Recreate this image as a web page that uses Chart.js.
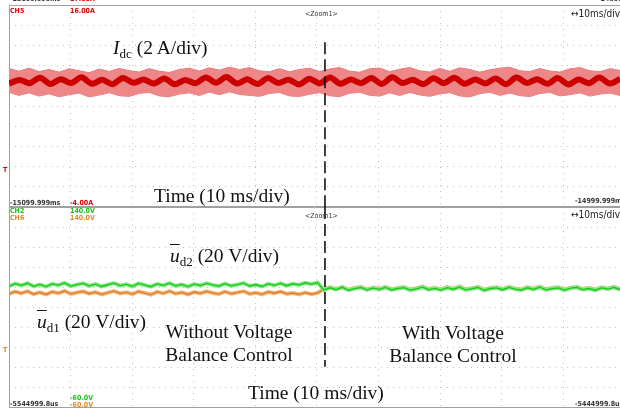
<!DOCTYPE html>
<html>
<head>
<meta charset="utf-8">
<script src="https://cdn.jsdelivr.net/npm/chart.js@4.4.1/dist/chart.umd.min.js"></script>
<style>
  body { margin: 0; background: #fff; }
  #wrap { position: relative; width: 620px; height: 418px; overflow: hidden; background: #fff; }
  canvas { position: absolute; left: 0; }
  .lbl { position: absolute; font-family: "DejaVu Sans Condensed", "DejaVu Sans", sans-serif; font-weight: bold; font-size: 7px; line-height: 8px; white-space: nowrap; color: #333; }
  .big { font-weight: normal; font-size: 10px; line-height: 10px; color: #222; }
  .ann { position: absolute; font-family: "Liberation Serif", "Times New Roman", serif; font-size: 19.5px; line-height: 20px; color: #111; white-space: nowrap; }
  .ann sub { font-size: 13px; vertical-align: baseline; position: relative; top: 4px; }
  .ann .ov { font-style: italic; text-decoration: overline; }
  .two { line-height: 23px; text-align: center; width: 180px; }
</style>
</head>
<body>
<div id="wrap">
  <canvas id="top" width="620" height="209" style="top:0"></canvas>
  <canvas id="bot" width="620" height="205" style="top:205px"></canvas>

  <!-- scope readouts, top panel -->
  <div class="lbl" style="left:10px;top:-5px">-15099.999ms</div>
  <div class="lbl" style="left:70px;top:-5px;color:#e00000">17.00A</div>
  <div class="lbl" style="left:598px;top:-5px">-14999.9</div>
  <div class="lbl" style="left:10px;top:7px;color:#e00000">CH5</div>
  <div class="lbl" style="left:70px;top:7px;color:#e00000">16.00A</div>
  <div class="lbl" style="left:305px;top:10px;font-weight:normal">&lt;Zoom1&gt;</div>
  <div class="lbl big" style="left:571px;top:9px">&#8596;10ms/div</div>
  <div class="lbl" style="left:3px;top:166px;color:#e00000">T</div>
  <div class="lbl" style="left:10px;top:199px">-15099.999ms</div>
  <div class="lbl" style="left:70px;top:199px;color:#e00000">-4.00A</div>
  <div class="lbl" style="left:575px;top:197px">-14999.999ms</div>

  <!-- scope readouts, bottom panel -->
  <div class="lbl" style="left:10px;top:207px;color:#22bb22">CH2</div>
  <div class="lbl" style="left:70px;top:207px;color:#22bb22">140.0V</div>
  <div class="lbl" style="left:10px;top:214px;color:#e08a2a">CH6</div>
  <div class="lbl" style="left:70px;top:214px;color:#e08a2a">140.0V</div>
  <div class="lbl" style="left:305px;top:212px;font-weight:normal">&lt;Zoom1&gt;</div>
  <div class="lbl big" style="left:571px;top:210px">&#8596;10ms/div</div>
  <div class="lbl" style="left:3px;top:346px;color:#e08a2a">T</div>
  <div class="lbl" style="left:70px;top:394px;color:#22bb22">-60.0V</div>
  <div class="lbl" style="left:10px;top:400px">-5544999.8us</div>
  <div class="lbl" style="left:70px;top:401px;color:#e08a2a">-60.0V</div>
  <div class="lbl" style="left:575px;top:400px">-5444999.8us</div>

  <!-- annotations -->
  <div class="ann" style="left:113px;top:38px"><i>I</i><sub>dc</sub> (2 A/div)</div>
  <div class="ann" style="left:154px;top:186px">Time (10 ms/div)</div>
  <div class="ann" style="left:170px;top:246px"><span class="ov">u</span><sub>d2</sub> (20 V/div)</div>
  <div class="ann" style="left:37px;top:312px"><span class="ov">u</span><sub>d1</sub> (20 V/div)</div>
  <div class="ann two" style="left:139px;top:320px">Without Voltage<br>Balance Control</div>
  <div class="ann two" style="left:363px;top:321px">With Voltage<br>Balance Control</div>
  <div class="ann" style="left:248px;top:383px">Time (10 ms/div)</div>
</div>

<script>
// time window shown (ms) - 10 ms/div, right edge slightly cropped
const timeSpan = 99.2;
const xGrid = [10, 20, 30, 40, 50, 60, 70, 80, 90];
const switchTime = 51.3;

// I_dc (A), CH5 scale 16 A .. -4 A
const idcGrid = [14, 12, 10, 8, 6, 4, 2, 0, -2];
const idcUpper = [
  9.70, 9.45, 9.75, 9.40, 9.62, 9.35, 9.68, 9.48, 9.30, 9.66,
  9.42, 9.72, 9.50, 9.36, 9.70, 9.44, 9.32, 9.62, 9.74, 9.46,
  9.78, 9.55, 9.85, 9.60, 9.80, 9.48, 9.40, 9.70, 9.38, 9.62,
  9.74, 9.42, 9.66, 9.80, 9.45, 9.34, 9.68, 9.76, 9.40, 9.64,
  9.82, 9.48, 9.36, 9.72, 9.44, 9.78, 9.62, 9.35, 9.58, 9.75,
  9.84, 9.50, 9.40, 9.72, 9.46, 9.36, 9.68, 9.80, 9.48, 9.40,
  9.70, 9.52
];
const idcLower = [
  7.35, 7.05, 7.30, 6.98, 7.20, 6.92, 7.12, 7.28, 6.90, 7.08,
  7.32, 7.02, 6.95, 7.25, 7.35, 7.00, 6.92, 7.18, 7.30, 7.04,
  7.38, 7.12, 7.40, 7.15, 7.05, 6.96, 7.24, 7.34, 7.00, 6.94,
  7.16, 7.32, 7.02, 6.92, 7.26, 7.36, 7.06, 6.98, 7.30, 7.04,
  7.34, 7.10, 6.96, 7.20, 7.32, 7.00, 6.90, 7.22, 7.35, 7.06,
  7.28, 7.02, 6.94, 7.24, 7.34, 7.00, 7.12, 7.30, 6.98, 7.18,
  7.28, 7.04
];
const idcMean = [
  8.22, 8.58, 8.26, 8.80, 8.18, 8.66, 8.28, 8.84, 8.20, 8.60,
  8.16, 8.78, 8.30, 8.62, 8.22, 8.72, 8.15, 8.58, 8.26, 8.82,
  8.30, 8.86, 8.22, 8.64, 8.18, 8.76, 8.28, 8.60, 8.14, 8.70,
  8.24, 8.82, 8.20, 8.62, 8.26, 8.78, 8.18, 8.84, 8.28, 8.60,
  8.16, 8.74, 8.26, 8.80, 8.20, 8.62, 8.24, 8.72, 8.16, 8.82,
  8.28, 8.66, 8.20, 8.76, 8.14, 8.62, 8.26, 8.82, 8.22, 8.68
];

// capacitor voltages (V), CH2/CH6 scale 140 V .. -60 V
const udcGrid = [120, 100, 80, 60, 40, 20, 0, -20, -40];
const ud2 = [
  61.2, 63.8, 62.0, 64.1, 61.0, 62.9, 60.8, 63.5, 62.2, 64.4,
  61.3, 62.8, 64.0, 61.5, 63.2, 60.9, 62.6, 64.3, 61.8, 63.0,
  61.1, 63.9, 62.3, 60.7, 63.4, 62.0, 64.2, 61.6, 62.9, 60.8,
  63.3, 61.9, 64.0, 62.4, 61.2, 63.7, 61.6, 62.8, 64.3, 61.4,
  62.6, 60.9, 63.5, 62.1, 64.0, 61.7, 63.6, 62.5, 64.6, 63.2,
  64.8,
  57.4, 59.6, 57.9, 60.1, 57.2, 58.8, 59.9, 57.5, 59.3, 58.0,
  60.0, 57.6, 58.9, 59.8, 57.3, 58.6, 60.2, 57.8, 59.1, 57.4,
  59.7, 58.2, 60.3, 57.5, 58.7, 59.9, 57.1, 58.9, 59.5, 57.7,
  60.0, 58.3, 57.4, 59.6, 58.1, 60.2, 57.6, 58.8, 59.4, 57.3,
  59.2, 60.1, 57.8, 58.9, 57.2, 59.5, 58.4, 60.0, 57.9
];
const ud1 = [
  53.4, 55.9, 54.1, 56.2, 53.2, 55.0, 53.0, 55.6, 54.3, 56.4,
  53.5, 54.9, 56.0, 53.7, 55.3, 53.1, 54.7, 56.3, 54.0, 55.1,
  53.3, 55.9, 54.4, 52.9, 55.5, 54.1, 56.2, 53.8, 55.0, 53.0,
  55.4, 54.0, 56.1, 54.5, 53.4, 55.8, 53.8, 54.9, 56.2, 53.6,
  54.7, 53.1, 55.5, 54.2, 55.9, 53.6, 54.4, 53.0, 54.8, 53.2,
  54.6,
  58.0, 60.2, 58.5, 60.6, 57.8, 59.4, 60.5, 58.1, 59.9, 58.6,
  60.6, 58.2, 59.5, 60.4, 57.9, 59.2, 60.8, 58.4, 59.7, 58.0,
  60.3, 58.8, 60.9, 58.1, 59.3, 60.5, 57.7, 59.5, 60.1, 58.3,
  60.6, 58.9, 58.0, 60.2, 58.7, 60.8, 58.2, 59.4, 60.0, 57.9,
  59.8, 60.7, 58.4, 59.5, 57.8, 60.1, 59.0, 60.6, 58.5
];

function series(vals) {
  const step = timeSpan / (vals.length - 1);
  return vals.map((v, i) => ({ x: i * step, y: v }));
}

// scope frame: solid border lines around each panel
const framePlugin = {
  id: 'frame',
  beforeDatasetsDraw(chart) {
    const a = chart.chartArea;
    const ctx = chart.ctx;
    ctx.save();
    ctx.strokeStyle = '#a0a0a0';
    ctx.lineWidth = 1;
    ctx.beginPath();
    ctx.moveTo(a.left + 0.5, a.top);
    ctx.lineTo(a.left + 0.5, a.bottom);
    ctx.moveTo(a.left, a.top + 0.5);
    ctx.lineTo(a.right, a.top + 0.5);
    ctx.moveTo(a.left, a.bottom - 0.5);
    ctx.lineTo(a.right, a.bottom - 0.5);
    ctx.stroke();
    ctx.restore();
  }
};

function axes(yMin, yMax, yGrid) {
  const common = {
    type: 'linear',
    grid: { color: '#c2c2c2', lineWidth: 1, drawTicks: false },
    border: { display: false, dash: [1, 5] },
    ticks: { display: false }
  };
  return {
    x: Object.assign({}, common, { min: 0, max: timeSpan,
      afterBuildTicks: s => { s.ticks = xGrid.map(v => ({ value: v })); } }),
    y: Object.assign({}, common, { min: yMin, max: yMax,
      afterBuildTicks: s => { s.ticks = yGrid.map(v => ({ value: v })); } })
  };
}

const baseOpts = {
  responsive: false,
  animation: false,
  devicePixelRatio: 1,
  plugins: { legend: { display: false }, tooltip: { enabled: false } },
  elements: { point: { radius: 0 } }
};

new Chart(document.getElementById('top'), {
  type: 'line',
  data: {
    datasets: [
      { data: [{ x: switchTime, y: 12.3 }, { x: switchTime, y: -4 }],
        borderColor: '#111', borderWidth: 1.6, borderDash: [12, 5] },
      { data: series(idcMean), borderColor: 'rgb(205,0,0)', borderWidth: 6, tension: 0.3 },
      { data: series(idcUpper), borderColor: 'rgb(234,120,120)', borderWidth: 1,
        backgroundColor: 'rgb(238,136,136)', fill: '+1' },
      { data: series(idcLower), borderColor: 'rgb(234,120,120)', borderWidth: 1 }
    ]
  },
  options: Object.assign({}, baseOpts, {
    layout: { padding: { left: 9, top: 5, right: 0, bottom: 2 } },
    scales: axes(-4, 16, idcGrid)
  }),
  plugins: [framePlugin]
});

new Chart(document.getElementById('bot'), {
  type: 'line',
  data: {
    datasets: [
      { data: [{ x: switchTime, y: 140 }, { x: switchTime, y: -19 }],
        borderColor: '#111', borderWidth: 1.6, borderDash: [12, 5] },
      { data: series(ud2), borderColor: 'rgb(25,200,25)', borderWidth: 1.3 },
      { data: series(ud2), borderColor: 'rgb(135,232,135)', borderWidth: 4 },
      { data: series(ud1), borderColor: 'rgb(220,125,35)', borderWidth: 1.3 },
      { data: series(ud1), borderColor: 'rgb(242,184,128)', borderWidth: 4 }
    ]
  },
  options: Object.assign({}, baseOpts, {
    layout: { padding: { left: 9, top: 2, right: 0, bottom: 2 } },
    scales: axes(-60, 140, udcGrid)
  }),
  plugins: [framePlugin]
});
</script>
</body>
</html>
